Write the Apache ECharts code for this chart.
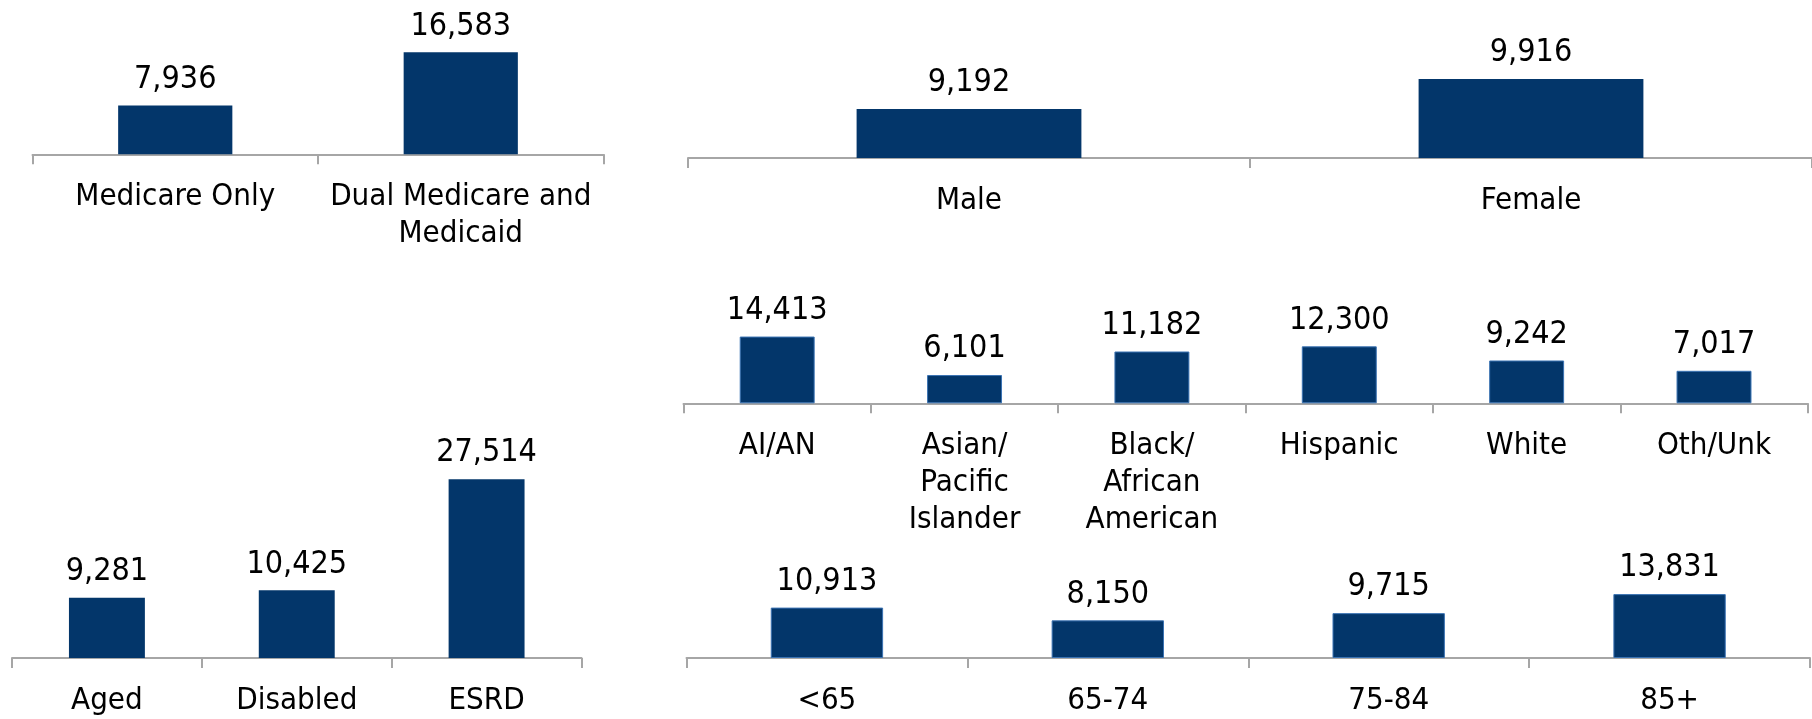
<!DOCTYPE html>
<html>
<head>
<meta charset="utf-8">
<script src="https://cdn.jsdelivr.net/npm/echarts@6/dist/echarts.min.js"></script>
<style>
html,body{margin:0;padding:0;background:#fff;}
#chart{width:1812px;height:719px;}
</style>
</head>
<body>
<div id="chart"></div>
<script>
// ---- data ----
const medicareCats = ['Medicare Only', 'Dual Medicare and\nMedicaid'];
const medicareVals = [7936, 16583];

const genderCats = ['Male', 'Female'];
const genderVals = [9192, 9916];

const raceCats = ['AI/AN', 'Asian/\nPacific\nIslander', 'Black/\nAfrican\nAmerican', 'Hispanic', 'White', 'Oth/Unk'];
const raceVals = [14413, 6101, 11182, 12300, 9242, 7017];

const entitlementCats = ['Aged', 'Disabled', 'ESRD'];
const entitlementVals = [9281, 10425, 27514];

const ageCats = ['<65', '65-74', '75-84', '85+'];
const ageVals = [10913, 8150, 9715, 13831];

// ---- styling / layout ----
const FONT = '"DejaVu Sans Condensed", "DejaVu Sans", sans-serif';
const BAR = '#03366a';
const AXIS = '#a6a6a6';

const panels = [
  {cats: medicareCats, vals: medicareVals, grid: {left: 32.5, top: 31.3, width: 571, height: 123}, min: 0, max: 20000, border: false},
  {cats: genderCats, vals: genderVals, grid: {left: 688, top: 75.6, width: 1124, height: 82.4}, min: 8000, max: 10000, border: false},
  {cats: raceCats, vals: raceVals, grid: {left: 683.5, top: 329.2, width: 1124.2, height: 74.1}, min: 0, max: 16000, border: true},
  {cats: entitlementCats, vals: entitlementVals, grid: {left: 12, top: 463, width: 569.5, height: 198}, min: 0, max: 30000, border: false},
  {cats: ageCats, vals: ageVals, grid: {left: 686.5, top: 584.1, width: 1123.5, height: 81.6}, min: 0, max: 16000, border: true}
];

const option = {
  animation: false,
  backgroundColor: '#ffffff',
  textStyle: {fontFamily: FONT},
  grid: panels.map(p => Object.assign({containLabel: false}, p.grid)),
  xAxis: panels.map((p, i) => ({
    type: 'category',
    gridIndex: i,
    data: p.cats,
    boundaryGap: true,
    axisLine: {show: true, lineStyle: {color: AXIS, width: 2}},
    axisTick: {show: true, length: 10, lineStyle: {color: AXIS, width: 2}},
    axisLabel: {
      interval: 0, margin: 24, color: '#000', fontFamily: FONT, fontSize: 31, lineHeight: 37
    }
  })),
  yAxis: panels.map((p, i) => ({
    type: 'value', gridIndex: i, min: p.min, max: p.max,
    show: false, splitLine: {show: false}
  })),
  series: panels.map((p, i) => ({
    type: 'bar',
    xAxisIndex: i, yAxisIndex: i,
    data: p.vals,
    barWidth: '40%',
    itemStyle: p.border ? {color: BAR, borderColor: '#3b73b3', borderWidth: 1} : {color: BAR},
    label: {
      show: true, position: 'top', distance: 10,
      color: '#000', fontFamily: FONT, fontSize: 32,
      formatter: d => d.value.toLocaleString('en-US')
    }
  }))
};

const chart = echarts.init(document.getElementById('chart'), null, {renderer: 'canvas'});
chart.setOption(option);
</script>
</body>
</html>
